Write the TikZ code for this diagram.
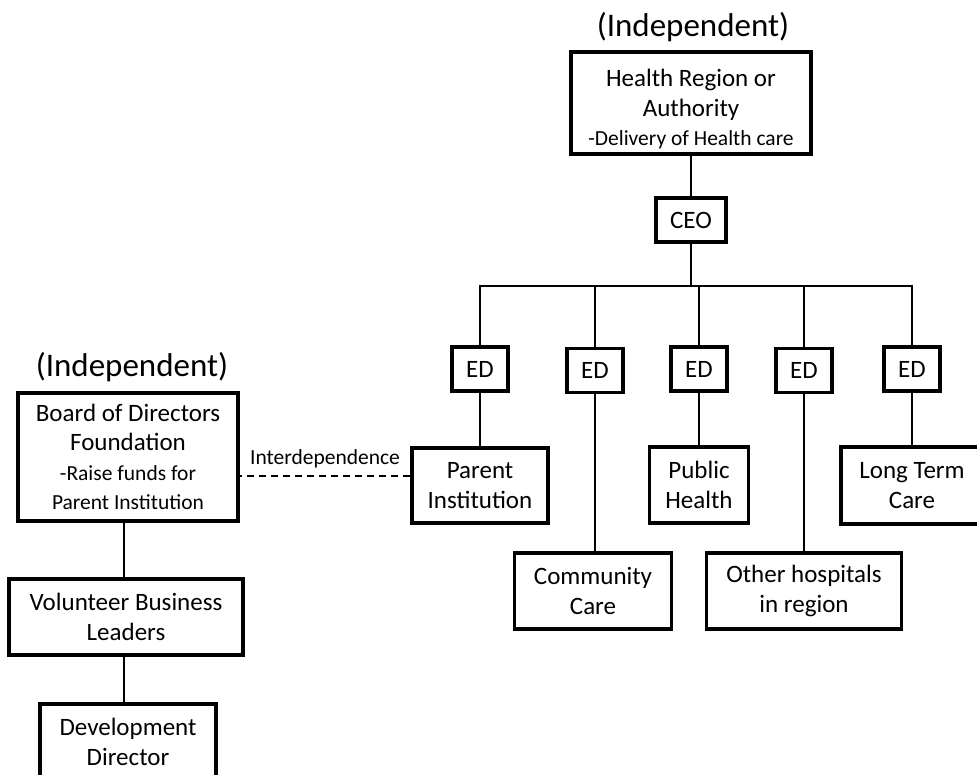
\documentclass[tikz,border=0pt]{standalone}
\usepackage{fontspec}
\setmainfont{Carlito}
\usepackage{tikz}
\newcommand{\titlesize}{\fontsize{33}{38}\selectfont}
\newcommand{\boxsize}{\fontsize{25}{29.5}\selectfont}
\newcommand{\notesize}{\fontsize{21.5}{27.5}\selectfont}

\begin{document}
\begin{tikzpicture}[x=1pt, y=-1pt]
    \tikzstyle{orgbox} = [rectangle, draw, line width=3.5pt, text centered, align=center, inner sep=0pt, font=\boxsize]
    \tikzstyle{edbox} = [orgbox, minimum width=56pt, minimum height=44pt]
    \tikzstyle{conn} = [line width=1.5pt]
    \tikzstyle{heading} = [font=\titlesize, inner sep=0pt]

    \useasboundingbox (0,0) rectangle (977,775);

    % Health region (independent)
    \node [heading] (indep_region) at (693,27) {(Independent)};
    \node [orgbox, minimum width=240pt, minimum height=102pt] (region) at (691,103) {\rule{0pt}{30pt}Health Region or\\Authority\\\notesize -Delivery of Health care};
    \node [orgbox, minimum width=70pt, minimum height=44pt] (ceo) at (691,220) {CEO};
    \coordinate (bus) at (691,286);

    % Executive directors
    \node [edbox] (ed_parent) at (480,369) {ED};
    \node [edbox] (ed_community) at (595,370.5) {ED};
    \node [edbox] (ed_public) at (699,369) {ED};
    \node [edbox] (ed_other) at (804,370.5) {ED};
    \node [edbox] (ed_longterm) at (912,369) {ED};

    % Services under each ED
    \node [orgbox, minimum width=136pt, minimum height=75pt] (parent) at (480,485.5) {Parent\\Institution};
    \node [orgbox, minimum width=99pt, minimum height=76pt] (public) at (699,485) {Public\\Health};
    \node [orgbox, minimum width=142pt, minimum height=77pt] (longterm) at (912,485.5) {Long Term\\Care};
    \node [orgbox, minimum width=157pt, minimum height=76pt] (community) at (593,591) {Community\\Care};
    \node [orgbox, minimum width=195pt, minimum height=76pt] (other) at (804,591) {Other hospitals\\in region};

    % Foundation (independent)
    \node [heading] (indep_foundation) at (132,367) {(Independent)};
    \node [orgbox, minimum width=220pt, minimum height=128pt] (board) at (128,457) {Board of Directors\\Foundation\\\notesize -Raise funds for\\\notesize Parent Institution};
    \node [orgbox, minimum width=234pt, minimum height=76pt] (volunteer) at (126,617) {Volunteer Business\\Leaders};
    \node [orgbox, minimum width=176pt, minimum height=76pt] (devdir) at (128,742) {Development\\Director};
    \coordinate (spine) at (124,0);

    % Reporting lines
    \draw [conn] (region.south) -- (ceo.north);
    \draw [conn] (ceo.south) -- (bus);
    \draw [conn] (ed_parent.north) -- (ed_parent.north |- bus) -- (ed_longterm.north |- bus) -- (ed_longterm.north);
    \draw [conn] (ed_community.north) -- (ed_community.north |- bus);
    \draw [conn] (ed_public.north) -- (ed_public.north |- bus);
    \draw [conn] (ed_other.north) -- (ed_other.north |- bus);
    \draw [conn] (ed_parent.south) -- (ed_parent.south |- parent.north);
    \draw [conn] (ed_community.south) -- (ed_community.south |- community.north);
    \draw [conn] (ed_public.south) -- (ed_public.south |- public.north);
    \draw [conn] (ed_other.south) -- (ed_other.south |- other.north);
    \draw [conn] (ed_longterm.south) -- (ed_longterm.south |- longterm.north);
    \draw [conn] (spine |- board.south) -- (spine |- volunteer.north);
    \draw [conn] (spine |- volunteer.south) -- (spine |- devdir.north);

    % Link between the two sides
    \draw [conn, dash pattern=on 7pt off 5pt] ([yshift=9.5pt]parent.west) -- ([yshift=9.5pt]parent.west -| board.east) node [midway, above=7pt, inner sep=0pt, font=\notesize] (interdep) {Interdependence};
\end{tikzpicture}
\end{document}
